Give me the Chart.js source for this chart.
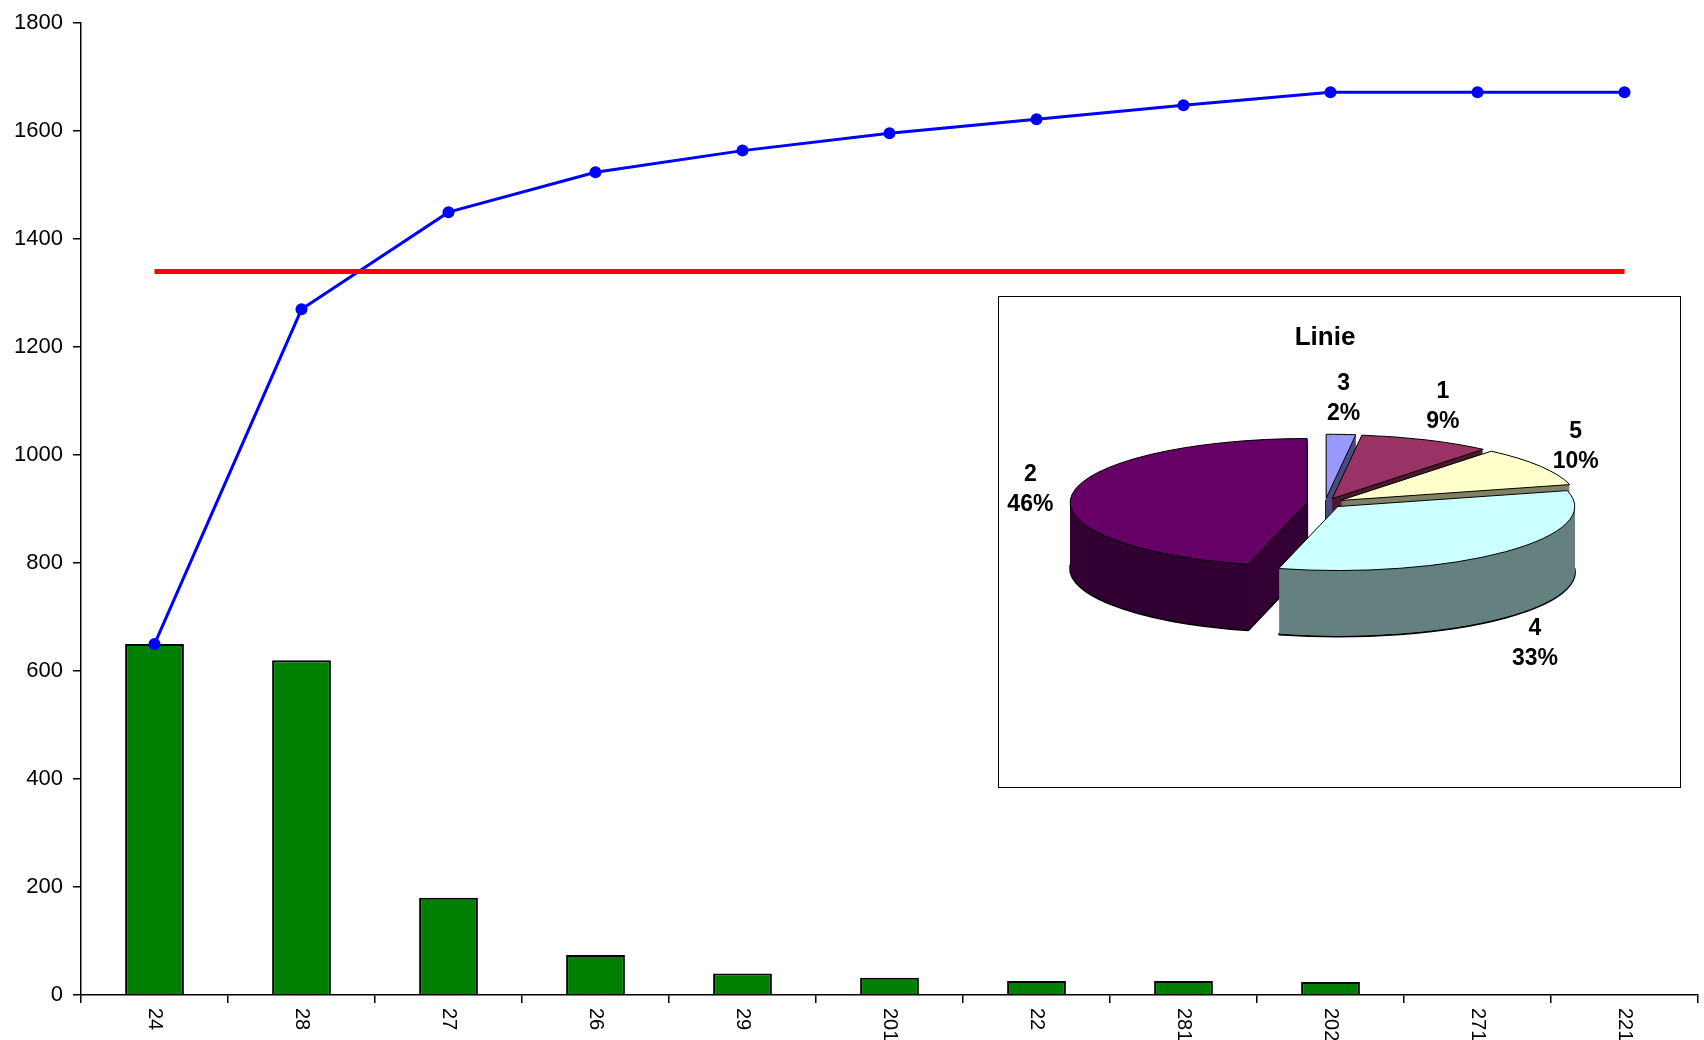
<!DOCTYPE html>
<html>
<head>
<meta charset="utf-8">
<script src="https://cdn.jsdelivr.net/npm/chart.js@4.4.1/dist/chart.umd.min.js"></script>
<style>
  body{margin:0;background:#fff;}
  #wrap{position:relative;width:1704px;height:1040px;}
  #main{position:absolute;left:0;top:0;width:1704px;height:1040px;}
  #inset{position:absolute;left:998px;top:296px;width:683px;height:492px;box-sizing:border-box;border:1px solid #000;background:#fff;}
  #pie{display:block;width:681px;height:490px;}
</style>
</head>
<body>
<div id="wrap">
  <canvas id="main" width="1704" height="1040"></canvas>
  <div id="inset"><canvas id="pie" width="681" height="490"></canvas></div>
</div>
<script>
// pareto data
const categories = ['24', '28', '27', '26', '29', '201', '22', '281', '202', '271', '221'];
const counts = [650, 620, 180, 74, 40, 32, 26, 26, 24, 0, 0];
const cumulative = [650, 1270, 1450, 1524, 1564, 1596, 1622, 1648, 1672, 1672, 1672];
const limit80 = [1340, 1340, 1340, 1340, 1340, 1340, 1340, 1340, 1340, 1340, 1340];
const yTicks = [0, 200, 400, 600, 800, 1000, 1200, 1400, 1600, 1800];

// inset pie "Linie"
const pieLabels = ['3', '1', '5', '4', '2'];
const pieShares = [2, 9, 10, 33, 46];
const pieColours = ['#9999ff', '#993366', '#ffffcc', '#ccffff', '#660066'];
const pieSides = ['#4c4c80', '#4c1933', '#808066', '#668080', '#330033'];

const sans = '"Liberation Sans", Arial, sans-serif';

// x labels are turned clockwise (read top to bottom), chart.js only turns the other way
const xLabelPlugin = {
  id: 'xLabels',
  afterDraw(chart){
    const {ctx, scales: {x}} = chart;
    ctx.save();
    ctx.font = '20px ' + sans;
    ctx.fillStyle = '#000';
    ctx.textAlign = 'left';
    ctx.textBaseline = 'middle';
    categories.forEach((c, i) => {
      ctx.save();
      ctx.translate(x.getPixelForValue(i), x.top + 13);
      ctx.rotate(Math.PI / 2);
      ctx.fillText(c, 0, 0);
      ctx.restore();
    });
    ctx.restore();
  }
};

new Chart(document.getElementById('main'), {
  data: {
    labels: categories,
    datasets: [
      {type: 'line', data: limit80, borderColor: '#ff0000', borderWidth: 5, pointRadius: 0, order: 0},
      {type: 'line', data: cumulative, borderColor: '#0000ff', borderWidth: 3,
       pointRadius: 6, pointBackgroundColor: '#0000ff', pointBorderWidth: 0, tension: 0, order: 1},
      {type: 'bar', data: counts, backgroundColor: '#008000', borderColor: '#000', borderWidth: 2,
       barPercentage: 0.4, categoryPercentage: 1, order: 2}
    ]
  },
  options: {
    responsive: false,
    animation: false,
    layout: {padding: {left: 14, top: 21, right: 2, bottom: 0}},
    plugins: {legend: {display: false}, tooltip: {enabled: false}},
    scales: {
      x: {
        type: 'category',
        offset: true,
        grid: {offset: true, drawOnChartArea: false, tickLength: 8, color: '#000', lineWidth: 1.5},
        border: {display: true, color: '#000', width: 1.5},
        ticks: {display: false},
        afterFit: s => { s.height = 45; }
      },
      y: {
        min: 0,
        max: 1800,
        afterBuildTicks: s => { s.ticks = yTicks.map(v => ({value: v})); },
        ticks: {color: '#000', padding: 10, font: {family: sans, size: 22}, callback: v => String(v)},
        grid: {drawOnChartArea: false, tickLength: 8, color: '#000', lineWidth: 1.5},
        border: {display: true, color: '#000', width: 1.5},
        afterFit: s => { s.width = 67; }
      }
    }
  },
  plugins: [xLabelPlugin]
});

// fake 3d: squash the pie, stack darker copies under it for the rim
const pieTilt = 0.27;
const pieDepth = 244;   // canvas units before squash
const pieExplode = 18;

const pie3d = {
  id: 'pie3d',
  beforeDatasetsDraw(chart){
    const ctx = chart.ctx;
    const arcs = chart.getDatasetMeta(0).data;
    const cy = arcs[0].y;
    // keep outlines 1px even though the drawing is squashed
    const stroke = ctx.stroke;
    ctx.stroke = function(){ this.save(); this.setTransform(1, 0, 0, 1, 0, 0); stroke.call(this); this.restore(); };
    ctx.save();
    ctx.translate(0, cy);
    ctx.scale(1, pieTilt);
    ctx.translate(0, -cy);
    const drawArc = (arc, dy, fill, bw) => {
      const mid = (arc.startAngle + arc.endAngle) / 2;
      const el = Object.create(arc);
      el.options = Object.assign({}, arc.options, {backgroundColor: fill, borderWidth: bw});
      ctx.save();
      ctx.translate(Math.cos(mid) * pieExplode, Math.sin(mid) * pieExplode + dy);
      el.draw(ctx);
      ctx.restore();
    };
    arcs.forEach((a, i) => drawArc(a, pieDepth, pieSides[i], 2));
    for(let d = pieDepth - 2; d > 0; d -= 2){
      arcs.forEach((a, i) => drawArc(a, d, pieSides[i], 0));
    }
    arcs.forEach((a, i) => drawArc(a, 0, pieColours[i], 1));
    ctx.restore();
    ctx.stroke = stroke;
    return false;
  },
  afterDraw(chart){
    const ctx = chart.ctx;
    const arcs = chart.getDatasetMeta(0).data;
    const total = pieShares.reduce((a, b) => a + b, 0);
    ctx.save();
    ctx.font = 'bold 23px ' + sans;
    ctx.fillStyle = '#000';
    ctx.textAlign = 'center';
    ctx.textBaseline = 'middle';
    arcs.forEach((arc, i) => {
      const mid = (arc.startAngle + arc.endAngle) / 2;
      const r = arc.outerRadius;
      const s = Math.sin(mid);
      const x = arc.x + Math.cos(mid) * r * 1.253;
      const y = arc.y + s * r * 0.443 + (s > 0.3 ? pieDepth * pieTilt : 0);
      ctx.fillText(pieLabels[i], x, y - 15);
      ctx.fillText(Math.round(pieShares[i] / total * 100) + '%', x, y + 15);
    });
    ctx.restore();
  }
};

new Chart(document.getElementById('pie'), {
  type: 'pie',
  data: {
    labels: pieLabels,
    datasets: [{data: pieShares, backgroundColor: pieColours, borderColor: '#000', borderWidth: 1, radius: 237}]
  },
  options: {
    responsive: false,
    animation: false,
    layout: {padding: {right: 29, bottom: 144}},
    plugins: {
      legend: {display: false},
      tooltip: {enabled: false},
      title: {display: true, text: 'Linie', color: '#000',
              font: {family: sans, size: 26, weight: 'bold'}, padding: {top: 25, bottom: 10}}
    }
  },
  plugins: [pie3d]
});
</script>
</body>
</html>
